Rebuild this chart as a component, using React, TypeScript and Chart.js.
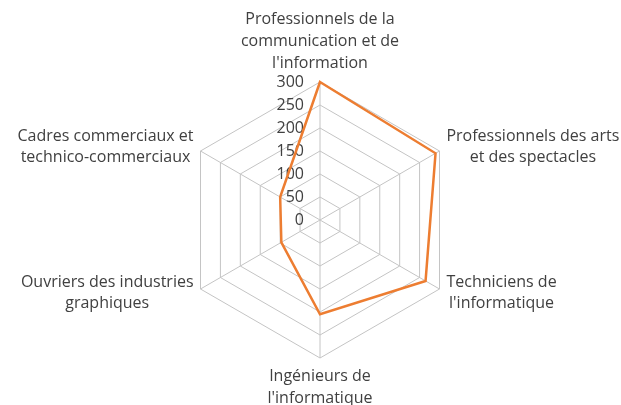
import React, { useEffect, useRef } from "react";
import { Chart, registerables } from "chart.js";

Chart.register(...registerables);

const CATEGORIES: string[][] = [
  ["Professionnels de la", "communication et de", "l'information"],
  ["Professionnels des arts", "et des spectacles"],
  ["Techniciens de", "l'informatique"],
  ["Ingénieurs de", "l'informatique"],
  ["Ouvriers des industries", "graphiques"],
  ["Cadres commerciaux et", "technico-commerciaux"],
];
const VALUES: number[] = [300, 290, 265, 205, 97, 100];
const TICK_MIN = 0;
const TICK_MAX = 300;
const TICK_STEP = 50;

const FONT_FAMILY = "'Open Sans', sans-serif";
const FONT_SIZE = 16;
const LINE_H = 21.7;
const TEXT_COLOR = "#404040";
const GRID_COLOR = "#c4c4c4";
const LINE_COLOR = "#ED7D31";

const tickPlugin = {
  id: "tickLabels",
  beforeDatasetsDraw(chart: any) {
    const scale = chart.scales.r;
    const ctx = chart.ctx;
    ctx.save();
    ctx.font = `${FONT_SIZE}px ${FONT_FAMILY}`;
    ctx.fillStyle = TEXT_COLOR;
    ctx.textAlign = "right";
    ctx.textBaseline = "middle";
    scale.ticks.forEach((t: any) => {
      const y = scale.yCenter - scale.getDistanceFromCenterForValue(t.value);
      ctx.fillText(String(t.value), scale.xCenter - 16, y);
    });
    ctx.restore();
  },
};

const pointLabelPlugin = {
  id: "pointLabelsCustom",
  afterDraw(chart: any) {
    const scale = chart.scales.r;
    const ctx = chart.ctx;
    ctx.save();
    ctx.font = `${FONT_SIZE}px ${FONT_FAMILY}`;
    ctx.fillStyle = TEXT_COLOR;
    ctx.textBaseline = "middle";
    ctx.textAlign = "center";
    CATEGORIES.forEach((lines, i) => {
      const p = scale.getPointPosition(i, scale.drawingArea + 8);
      const deg = ((scale.getIndexAngle(i) * 180) / Math.PI) % 360;
      const bw = Math.max(...lines.map((l) => ctx.measureText(l).width));
      const bh = lines.length * LINE_H;
      let cx = p.x;
      let top = p.y - bh / 2;
      if (Math.abs(deg) < 1) {
        top = p.y - bh;
      } else if (Math.abs(deg - 180) < 1) {
        top = p.y;
      } else if (deg < 180) {
        cx = p.x + bw / 2;
      } else {
        cx = p.x - bw / 2;
      }
      lines.forEach((l, k) => {
        ctx.fillText(l, cx, top + LINE_H * (k + 0.5));
      });
    });
    ctx.restore();
  },
};

export default function App() {
  const ref = useRef<HTMLCanvasElement | null>(null);
  useEffect(() => {
    if (!ref.current) return;
    const chart = new Chart(ref.current, {
      type: "radar",
      data: {
        labels: CATEGORIES,
        datasets: [
          {
            data: VALUES,
            borderColor: LINE_COLOR,
            backgroundColor: "transparent",
            borderWidth: 2.5,
            pointRadius: 0,
            pointHoverRadius: 0,
            fill: false,
            tension: 0,
          },
        ],
      },
      options: {
        animation: false,
        responsive: false,
        devicePixelRatio: 1,
        layout: { padding: { left: 182, right: 163, top: 82, bottom: 47 } },
        plugins: { legend: { display: false }, tooltip: { enabled: false } },
        scales: {
          r: {
            min: TICK_MIN,
            max: TICK_MAX,
            ticks: { stepSize: TICK_STEP, display: false },
            pointLabels: { display: false },
            grid: { color: GRID_COLOR, lineWidth: 1 },
            angleLines: { color: GRID_COLOR, lineWidth: 1 },
          },
        },
      },
      plugins: [tickPlugin, pointLabelPlugin],
    });
    return () => chart.destroy();
  }, []);
  return (
    <div style={{ position: "fixed", left: 0, top: 0, width: 621, height: 405, background: "#fff" }}>
      <canvas ref={ref} width={621} height={405} />
    </div>
  );
}
